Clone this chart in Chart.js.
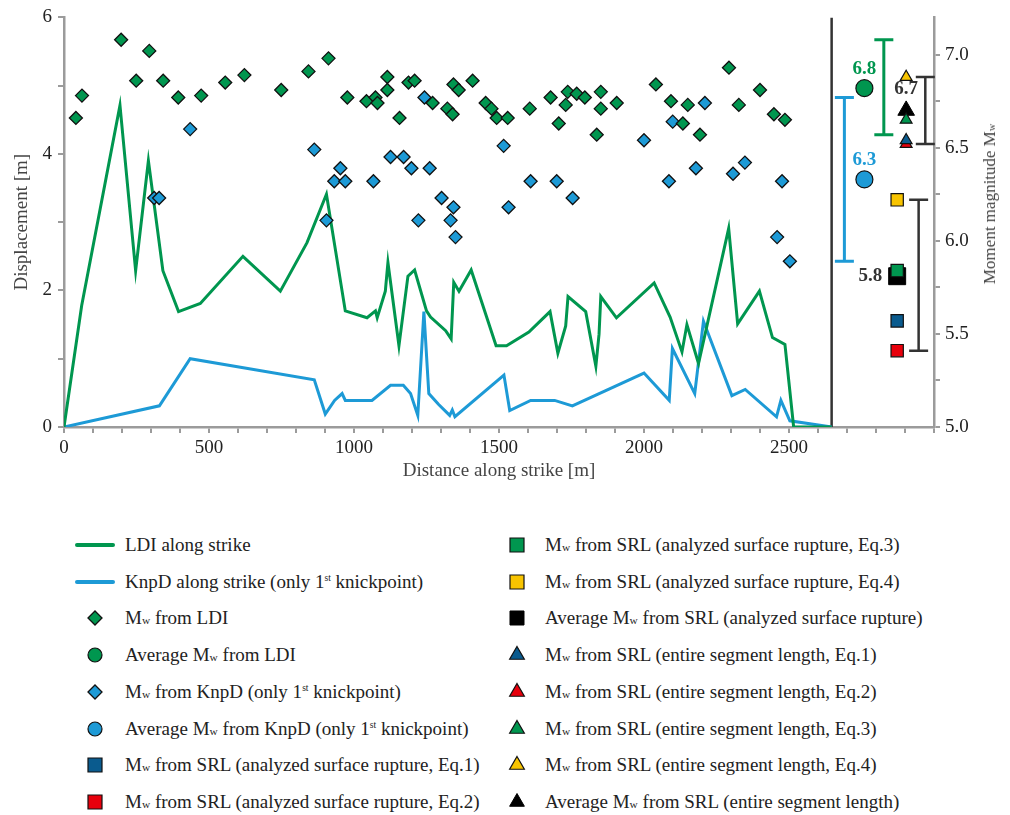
<!DOCTYPE html>
<html>
<head>
<meta charset="utf-8">
<script src="https://cdn.jsdelivr.net/npm/chart.js@4.4.1/dist/chart.umd.min.js"></script>
<style>
  body { margin: 0; background: #fff; font-family: "Liberation Serif", "Times New Roman", serif; }
  #wrap { position: relative; width: 1010px; height: 815px; }
  #grafico { position: absolute; left: 0; top: 0; }
  #tituloMw {
    position: absolute; left: 990px; top: 204px;
    transform: translate(-50%, -50%) rotate(-90deg);
    white-space: nowrap; font-size: 17px; color: #444;
  }
  #legenda canvas { position: absolute; }
  .item {
    position: absolute; height: 24px; line-height: 24px;
    white-space: nowrap; font-size: 19px; color: #222;
  }
  .w { font-size: 0.6em; }
  sup { font-size: 0.5em; vertical-align: 0.7em; line-height: 0; }
</style>
</head>
<body>
<div id="wrap">
  <canvas id="grafico" width="1010" height="490"></canvas>
  <div id="tituloMw">Moment magnitude M<span class="w">w</span></div>
  <div id="legenda"></div>
</div>
<script>
// LDI ao longo do traço (distância em m, deslocamento em m)
const ldiDist = [0, 61, 193, 247, 291, 341, 395, 470, 617, 746, 838, 905, 970, 1045, 1074, 1080, 1108, 1117, 1155, 1186,
  1209, 1250, 1264, 1316, 1335, 1344, 1362, 1404, 1490, 1526, 1603, 1676, 1703, 1730, 1738, 1799, 1834, 1845, 1851, 1905,
  2035, 2090, 2131, 2148, 2188, 2292, 2323, 2398, 2443, 2486, 2516, 2647];
const ldiVal = [0, 1.78, 4.71, 2.29, 3.9, 2.29, 1.69, 1.81, 2.5, 1.99, 2.7, 3.41, 1.7, 1.6, 1.7, 1.6, 1.99, 2.41, 1.19, 2.21,
  2.3, 1.7, 1.61, 1.41, 1.29, 2.12, 1.99, 2.3, 1.19, 1.19, 1.39, 1.69, 1.08, 1.48, 1.91, 1.69, 0.89, 1.36, 1.91, 1.6,
  2.11, 1.61, 1.1, 1.5, 0.93, 2.91, 1.51, 1.99, 1.31, 1.21, 0, 0];

// KnpD (só o 1º knickpoint)
const knpDist = [0, 329, 435, 863, 901, 933, 959, 970, 1062, 1126, 1170, 1195, 1220, 1241, 1258, 1292, 1330, 1339, 1348,
  1517, 1537, 1609, 1692, 1753, 2000, 2087, 2098, 2175, 2205, 2303, 2349, 2457, 2472, 2503, 2647];
const knpVal = [0, 0.31, 1.0, 0.69, 0.19, 0.39, 0.49, 0.39, 0.39, 0.61, 0.61, 0.49, 0.17, 1.69, 0.49, 0.33, 0.17, 0.25, 0.15,
  0.76, 0.24, 0.39, 0.39, 0.31, 0.79, 0.39, 1.15, 0.49, 1.55, 0.46, 0.55, 0.15, 0.39, 0.09, 0];

// Mw calculado a partir do LDI
const ldiMwDist = [41, 62, 197, 249, 294, 342, 394, 473, 556, 622, 749, 843, 912, 977, 1043, 1074, 1081, 1115, 1115, 1157,
  1188, 1209, 1271, 1322, 1340, 1343, 1361, 1409, 1454, 1474, 1492, 1530, 1606, 1678, 1706, 1730, 1737, 1768, 1796, 1851,
  1851, 1837, 1906, 2041, 2093, 2151, 2134, 2193, 2293, 2327, 2400, 2448, 2486];
const ldiMw = [6.66, 6.78, 7.08, 6.86, 7.02, 6.86, 6.77, 6.78, 6.85, 6.89, 6.81, 6.91, 6.98, 6.77, 6.75, 6.77, 6.74, 6.88, 6.81, 6.66,
  6.85, 6.86, 6.74, 6.71, 6.68, 6.84, 6.81, 6.86, 6.74, 6.71, 6.66, 6.66, 6.71, 6.77, 6.63, 6.73, 6.8, 6.79, 6.77, 6.8,
  6.71, 6.57, 6.74, 6.84, 6.75, 6.73, 6.63, 6.57, 6.93, 6.73, 6.81, 6.68, 6.65];

// Mw calculado a partir do KnpD
const knpMwDist = [311, 328, 435, 863, 905, 932, 953, 970, 1067, 1126, 1171, 1198, 1222, 1243, 1261, 1302, 1333, 1343, 1350,
  1516, 1533, 1609, 1699, 1754, 2000, 2086, 2099, 2179, 2210, 2307, 2348, 2476, 2459, 2503];
const knpMw = [6.23, 6.23, 6.6, 6.49, 6.11, 6.32, 6.39, 6.32, 6.32, 6.45, 6.45, 6.39, 6.11, 6.77, 6.39, 6.23, 6.11, 6.18, 6.02,
  6.51, 6.18, 6.32, 6.32, 6.23, 6.54, 6.32, 6.64, 6.39, 6.74, 6.36, 6.42, 6.32, 6.02, 5.89];

// médias e SRL (Eq.1 a Eq.4), desenhados à direita do fim do segmento
const fimSegmento = 2647;
const mediaDist = 2760;
const ldiMedia = 6.82;
const knpMedia = 6.33;
const srlRuptDist = 2873;
const srlRupt = [5.57, 5.41, 5.84, 6.22];
const srlRuptMedia = 5.81;
const srlSegDist = 2904;
const srlSeg = [6.54, 6.52, 6.65, 6.88];
const srlSegMedia = 6.7;

// posições (m) das barras de variação
const barraKnpX = 2691;
const barraLdiX = 2827;
const barraRuptX = 2947;
const barraSegX = 2970;

const verde = '#00964f';
const azul = '#1d9ad6';
const azulEsc = '#0a5b8e';
const vermelho = '#e8000c';
const amarelo = '#f8c400';
const cinzaEixo = '#9b9b9b';
const escuro = '#333';
const eqCores = [azulEsc, vermelho, verde, amarelo];
const fonte = '"Liberation Serif", "Times New Roman", serif';

const pares = (xs, ys) => xs.map((x, i) => ({ x, y: ys[i] }));

const datasets = [
  { label: 'LDI along strike', data: pares(ldiDist, ldiVal), yAxisID: 'y', showLine: true,
    borderColor: verde, borderWidth: 3, pointRadius: 0, order: 1 },
  { label: 'KnpD along strike (only 1st knickpoint)', data: pares(knpDist, knpVal), yAxisID: 'y', showLine: true,
    borderColor: azul, borderWidth: 3, pointRadius: 0, order: 1 },
  { label: 'Mw from LDI', data: pares(ldiMwDist, ldiMw), pointStyle: 'rectRot', pointRadius: 6.5,
    backgroundColor: verde, borderColor: '#111', borderWidth: 1.3 },
  { label: 'Average Mw from LDI', data: [{ x: mediaDist, y: ldiMedia }], pointStyle: 'circle', pointRadius: 8.5,
    backgroundColor: verde, borderColor: '#111', borderWidth: 1.2, rotulo: { cor: verde, dx: 0, dy: -19, align: 'center' } },
  { label: 'Mw from KnpD (only 1st knickpoint)', data: pares(knpMwDist, knpMw), pointStyle: 'rectRot', pointRadius: 6.5,
    backgroundColor: azul, borderColor: '#111', borderWidth: 1.3 },
  { label: 'Average Mw from KnpD (only 1st knickpoint)', data: [{ x: mediaDist, y: knpMedia }], pointStyle: 'circle', pointRadius: 8.5,
    backgroundColor: azul, borderColor: '#111', borderWidth: 1.2, rotulo: { cor: azul, dx: 0, dy: -19, align: 'center' } },
  ...srlRupt.map((v, i) => ({
    label: 'Mw from SRL (analyzed surface rupture, Eq.' + (i + 1) + ')', data: [{ x: srlRuptDist, y: v }],
    pointStyle: 'rect', pointRadius: 8.7, backgroundColor: eqCores[i], borderColor: '#111', borderWidth: 1.2
  })),
  { label: 'Average Mw from SRL (analyzed surface rupture)', data: [{ x: srlRuptDist, y: srlRuptMedia }], pointStyle: 'rect',
    pointRadius: 12, backgroundColor: '#000', borderColor: '#000', borderWidth: 1,
    rotulo: { cor: escuro, dx: -15, dy: 0, align: 'right' } },
  ...srlSeg.map((v, i) => ({
    label: 'Mw from SRL (entire segment length, Eq.' + (i + 1) + ')', data: [{ x: srlSegDist, y: v }],
    pointStyle: 'triangle', pointRadius: 6.8, backgroundColor: eqCores[i], borderColor: '#111', borderWidth: 1.2
  })),
  { label: 'Average Mw from SRL (entire segment length)', data: [{ x: srlSegDist, y: srlSegMedia }], pointStyle: 'triangle',
    pointRadius: 9.6, backgroundColor: '#000', borderColor: '#000', borderWidth: 1,
    rotulo: { cor: escuro, dx: 0, dy: -21, align: 'center' } },
  // fim do segmento analisado
  { label: 'fim', legenda: false, data: [{ x: fimSegmento, y: 0 }, { x: fimSegmento, y: 6 }], yAxisID: 'y',
    showLine: true, borderColor: escuro, borderWidth: 2.5, pointRadius: 0, order: 2 }
];
datasets.forEach(d => { if (!d.yAxisID) d.yAxisID = 'y2'; });

const barras = [
  { x: barraKnpX, serie: knpMw, cor: azul, larg: 3 },
  { x: barraLdiX, serie: ldiMw, cor: verde, larg: 3 },
  { x: barraRuptX, serie: srlRupt, cor: escuro, larg: 2.5 },
  { x: barraSegX, serie: srlSeg, cor: escuro, larg: 2.5 }
];

// barras min-max de cada conjunto de Mw
const barrasErro = {
  id: 'barrasErro',
  beforeDatasetsDraw(chart) {
    const { ctx, scales: { x, y2 } } = chart;
    barras.forEach(b => {
      const px = x.getPixelForValue(b.x);
      const topo = y2.getPixelForValue(Math.max(...b.serie));
      const base = y2.getPixelForValue(Math.min(...b.serie));
      ctx.save();
      ctx.strokeStyle = b.cor;
      ctx.lineWidth = b.larg;
      ctx.beginPath();
      ctx.moveTo(px, topo); ctx.lineTo(px, base);
      ctx.moveTo(px - 9.5, topo); ctx.lineTo(px + 9.5, topo);
      ctx.moveTo(px - 9.5, base); ctx.lineTo(px + 9.5, base);
      ctx.stroke();
      ctx.restore();
    });
  }
};

// valores das médias escritos junto aos marcadores
const rotulos = {
  id: 'rotulos',
  afterDatasetsDraw(chart) {
    const ctx = chart.ctx;
    chart.data.datasets.forEach((ds, i) => {
      if (!ds.rotulo) return;
      const p = chart.getDatasetMeta(i).data[0];
      ctx.save();
      ctx.font = 'bold 19px ' + fonte;
      ctx.fillStyle = ds.rotulo.cor;
      ctx.textAlign = ds.rotulo.align;
      ctx.textBaseline = 'middle';
      ctx.fillText(ds.data[0].y.toFixed(1), p.x + ds.rotulo.dx, p.y + ds.rotulo.dy);
      ctx.restore();
    });
  }
};

const eixo = {
  border: { display: true, color: cinzaEixo, width: 2.5 },
  grid: { drawOnChartArea: false, drawTicks: true, tickLength: 6, color: cinzaEixo, lineWidth: 2 }
};

const grafico = new Chart(document.getElementById('grafico').getContext('2d'), {
  type: 'scatter',
  data: { datasets },
  options: {
    responsive: false,
    animation: false,
    layout: { padding: { top: 15, left: 0, right: 0, bottom: 0 } },
    plugins: { legend: { display: false }, tooltip: { enabled: false } },
    scales: {
      x: {
        ...eixo, type: 'linear', min: 0, max: 3000,
        afterFit: s => { s.height = 63; },
        ticks: {
          stepSize: 100, autoSkip: false, maxRotation: 0, padding: 4, color: '#222',
          font: { family: fonte, size: 19 },
          callback: v => (v % 500 === 0 && v <= 2500) ? v : ''
        },
        title: { display: true, text: 'Distance along strike [m]', color: '#444',
          font: { family: fonte, size: 19 }, padding: { top: 0, bottom: 8 } }
      },
      y: {
        ...eixo, position: 'left', min: 0, max: 6,
        afterFit: s => { s.width = 64; },
        ticks: {
          stepSize: 1, autoSkip: false, padding: 6, color: '#222',
          font: { family: fonte, size: 19 },
          callback: v => v % 2 === 0 ? v : ''
        },
        title: { display: true, text: 'Displacement [m]', color: '#444',
          font: { family: fonte, size: 19 }, padding: { top: 11, bottom: 0 } }
      },
      y2: {
        ...eixo, position: 'right', min: 5, max: 7.2,
        afterFit: s => { s.width = 76; },
        ticks: {
          stepSize: 0.25, autoSkip: false, includeBounds: false, padding: 5, color: '#222',
          font: { family: fonte, size: 19 },
          callback: v => Math.abs(v * 2 - Math.round(v * 2)) < 1e-6 ? v.toFixed(1) : ''
        }
      }
    }
  },
  plugins: [barrasErro, rotulos]
});

// legenda em duas colunas, montada a partir dos datasets
const raioLegenda = { rectRot: 7, circle: 7, rect: 9.9, triangle: 8.5 };
function montarLegenda(chart) {
  const caixa = document.getElementById('legenda');
  const itens = chart.data.datasets.filter(d => d.legenda !== false);
  itens.forEach((ds, i) => {
    const col = i < 8 ? 0 : 1;
    const cy = 545 + (i % 8) * 36.7;
    const cx = col === 0 ? 95 : 517;
    const tx = col === 0 ? 125 : 545;
    const icone = document.createElement('canvas');
    icone.width = 44; icone.height = 24;
    icone.style.left = (cx - 22) + 'px';
    icone.style.top = (cy - 12) + 'px';
    const c = icone.getContext('2d');
    if (ds.showLine) {
      c.strokeStyle = ds.borderColor;
      c.lineWidth = 4;
      c.lineCap = 'round';
      c.beginPath(); c.moveTo(4, 12); c.lineTo(40, 12); c.stroke();
    } else {
      c.fillStyle = ds.backgroundColor;
      c.strokeStyle = ds.borderColor;
      c.lineWidth = ds.borderWidth;
      Chart.helpers.drawPoint(c, { pointStyle: ds.pointStyle, radius: raioLegenda[ds.pointStyle],
        borderWidth: ds.borderWidth, rotation: 0 }, 22, 12);
    }
    const txt = document.createElement('div');
    txt.className = 'item';
    txt.style.left = tx + 'px';
    txt.style.top = (cy - 12) + 'px';
    txt.innerHTML = ds.label.replace('Mw', 'M<span class="w">w</span>').replace('1st', '1<sup>st</sup>');
    caixa.appendChild(icone);
    caixa.appendChild(txt);
  });
}
montarLegenda(grafico);
</script>
</body>
</html>
